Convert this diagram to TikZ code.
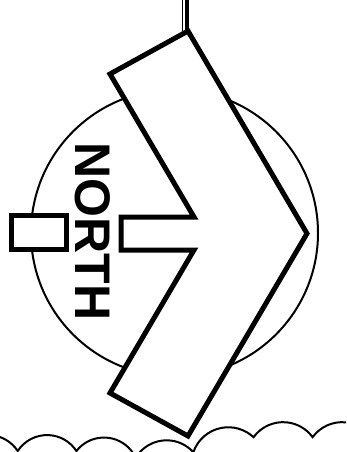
\documentclass[tikz,border=0pt]{standalone}
\usepackage{fontspec}
\setmainfont{Liberation Sans}
\usetikzlibrary{positioning}

\begin{document}
\begin{tikzpicture}[x=1pt, y=-1pt,
    ringline/.style={draw=black, line width=2pt},
    outline/.style={draw=black, fill=white, line width=5pt, line join=miter},
    wave/.style={draw=black, line width=2pt},
    label/.style={rotate=-90, inner sep=0pt, font=\fontsize{50}{50}\selectfont\bfseries}
  ]
    \clip (0,0) rectangle (346,452);

    \draw[ringline] (174.5,233) circle[radius=143.5];

    % pole on top
    \draw[line width=1.2pt] (182.8,0) -- (182.8,31);
    \draw[line width=3.5pt] (187,0) -- (187,31);

    % arrow head
    \draw[outline] (188,31) -- (307,233.5) -- (188,436) -- (110,393) -- (194,250)
      -- (121,250) -- (121,217) -- (194,217) -- (110,74) -- cycle;
    \draw[outline] (11.5,215.5) rectangle (66,249.5);

    \node[label] (north) at (93,231.5) {NORTH};

    % waves
    \draw[wave] (-41,451) arc[start angle=213, end angle=327, radius=35]
      arc[start angle=213, end angle=327, radius=35]
      arc[start angle=218, end angle=335, radius=35]
      arc[start angle=211, end angle=318, radius=36]
      arc[start angle=199, end angle=313, radius=37]
      arc[start angle=216, end angle=324, radius=36.5]
      arc[start angle=216, end angle=324, radius=36.5];
\end{tikzpicture}
\end{document}
